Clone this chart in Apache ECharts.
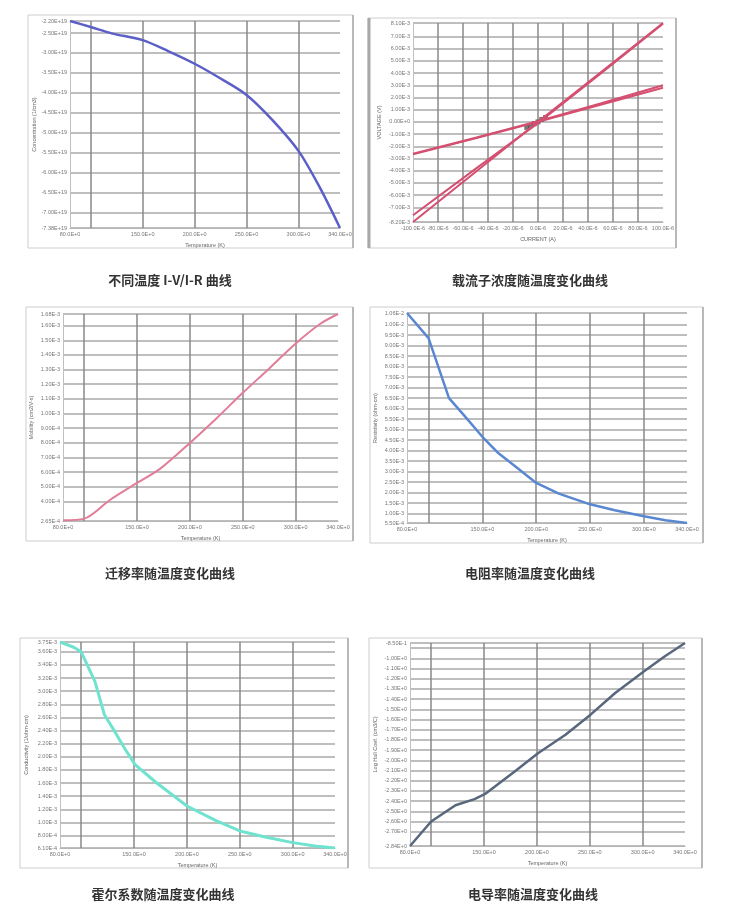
<!DOCTYPE html>
<html lang="zh">
<head>
<meta charset="utf-8">
<title>霍尔效应测试曲线</title>
<style>
    html, body { margin: 0; padding: 0; background: #fff; }
    #main { width: 729px; height: 922px; }
</style>
</head>
<body>
<div id="main"></div>
<script src="https://cdn.jsdelivr.net/npm/echarts@6/dist/echarts.min.js"></script>
<script>
// 温度轴（5 张图共用）
var tempTicks = [80, 100, 150, 200, 250, 300, 340];
var tempLabels = [80, 150, 200, 250, 300, 340];

// 图1 不同温度 I-V/I-R 曲线 (Concentration)
var concTemp = [80, 100, 120, 150, 175, 200, 225, 250, 275, 300, 320, 340];
var concValue = [-2.20e19, -2.35e19, -2.51e19, -2.68e19, -2.96e19, -3.27e19, -3.64e19, -4.05e19, -4.68e19, -5.45e19, -6.34e19, -7.38e19];
var concTicks = [-7.38e19, -7.0e19, -6.5e19, -6.0e19, -5.5e19, -5.0e19, -4.5e19, -4.0e19, -3.5e19, -3.0e19, -2.5e19, -2.2e19];

// 图2 载流子浓度随温度变化曲线 (I-V, 电流 uA, 电压 mV)
var ivCurrent = [-100, -50, 0, 50, 100];
var ivSteepA = [-8.2, -4.1, 0, 4.05, 8.1];
var ivSteepB = [-7.65, -3.85, -0.1, 3.95, 8.05];
var ivFlatA = [-2.66, -1.35, 0, 1.4, 2.8];
var ivFlatB = [-2.6, -1.3, 0.05, 1.5, 3.0];
var ivDotX = [-9, -6, -3, 0, 3, 6];
var ivDotY = [-0.45, -0.3, -0.15, 0, 0.2, 0.35];
var ivXTicks = [-100, -80, -60, -40, -20, 0, 20, 40, 60, 80, 100];
var ivYTicks = [-8.2, -7, -6, -5, -4, -3, -2, -1, 0, 1, 2, 3, 4, 5, 6, 7, 8.1];

// 图3 迁移率随温度变化曲线
var mobTemp = [80, 100, 124, 150, 172, 200, 225, 250, 275, 300, 323, 340];
var mobValue = [0.27e-3, 0.281e-3, 0.407e-3, 0.525e-3, 0.623e-3, 0.799e-3, 0.966e-3, 1.141e-3, 1.308e-3, 1.479e-3, 1.612e-3, 1.68e-3];
var mobTicks = [0.265e-3, 0.4e-3, 0.5e-3, 0.6e-3, 0.7e-3, 0.8e-3, 0.9e-3, 1.0e-3, 1.1e-3, 1.2e-3, 1.3e-3, 1.4e-3, 1.5e-3, 1.6e-3, 1.68e-3];

// 图4 电阻率随温度变化曲线
var resTemp = [80, 100, 119, 134, 150, 165, 181, 200, 221, 250, 273, 300, 320, 340];
var resValue = [10.56e-3, 9.36e-3, 6.50e-3, 5.62e-3, 4.66e-3, 3.87e-3, 3.23e-3, 2.46e-3, 1.95e-3, 1.44e-3, 1.16e-3, 0.87e-3, 0.68e-3, 0.55e-3];
var resTicks = [0.55e-3, 1.0e-3, 1.5e-3, 2.0e-3, 2.5e-3, 3.0e-3, 3.5e-3, 4.0e-3, 4.5e-3, 5.0e-3, 5.5e-3, 6.0e-3, 6.5e-3, 7.0e-3, 7.5e-3, 8.0e-3, 8.5e-3, 9.0e-3, 9.5e-3, 10.0e-3, 10.56e-3];

// 图5 霍尔系数随温度变化曲线
var hallTemp = [80, 93, 100, 113, 122, 132, 141, 151, 170, 200, 227, 251, 274, 300, 321, 340];
var hallValue = [3.75e-3, 3.67e-3, 3.60e-3, 3.15e-3, 2.64e-3, 2.38e-3, 2.13e-3, 1.88e-3, 1.62e-3, 1.25e-3, 1.03e-3, 0.865e-3, 0.778e-3, 0.692e-3, 0.641e-3, 0.61e-3];
var hallTicks = [0.61e-3, 0.8e-3, 1.0e-3, 1.2e-3, 1.4e-3, 1.6e-3, 1.8e-3, 2.0e-3, 2.2e-3, 2.4e-3, 2.6e-3, 2.8e-3, 3.0e-3, 3.2e-3, 3.4e-3, 3.6e-3, 3.75e-3];

// 图6 电导率随温度变化曲线
var condTemp = [80, 100, 123, 141, 151, 160, 179, 201, 227, 251, 274, 301, 321, 340];
var condValue = [-2.84, -2.60, -2.44, -2.38, -2.33, -2.26, -2.11, -1.93, -1.75, -1.55, -1.34, -1.13, -0.98, -0.85];
var condTicks = [-2.84, -2.7, -2.6, -2.5, -2.4, -2.3, -2.2, -2.1, -2.0, -1.9, -1.8, -1.7, -1.6, -1.5, -1.4, -1.3, -1.2, -1.1, -1.0, -0.9, -0.85];
var condLabels = [-2.84, -2.7, -2.6, -2.5, -2.4, -2.3, -2.2, -2.1, -2.0, -1.9, -1.8, -1.7, -1.6, -1.5, -1.4, -1.3, -1.2, -1.1, -1.0, -0.85];

var captions = ['不同温度 I-V/I-R 曲线', '载流子浓度随温度变化曲线', '迁移率随温度变化曲线',
    '电阻率随温度变化曲线', '霍尔系数随温度变化曲线', '电导率随温度变化曲线'];

function pairs(xs, ys) {
    var out = [];
    for (var i = 0; i < xs.length; i++) out.push([xs[i], ys[i]]);
    return out;
}
function sci(v) { return v.toExponential(2).toUpperCase(); }

var tickFont = { fontSize: 5.5, color: '#777', fontFamily: 'Liberation Sans', margin: 3 };
var nameFont = { fontSize: 5.5, color: '#666', fontFamily: 'Liberation Sans' };

function xAxisOf(gi, min, max, ticks, labels, name, fmt) {
    return {
        type: 'value', gridIndex: gi, min: min, max: max,
        name: name, nameLocation: 'middle', nameGap: 14, nameTextStyle: nameFont,
        axisLine: { show: true, onZero: false, lineStyle: { color: '#b5b5b5', width: 1 } },
        axisTick: { show: false, customValues: ticks },
        axisLabel: Object.assign({ customValues: labels, formatter: fmt }, tickFont),
        splitLine: { show: true, showMinLine: false, showMaxLine: false, lineStyle: { color: '#888', width: 1.5 } }
    };
}
function yAxisOf(gi, min, max, ticks, labels, name, gap, fmt) {
    return {
        type: 'value', gridIndex: gi, min: min, max: max,
        name: name, nameLocation: 'middle', nameGap: gap, nameRotate: 90, nameTextStyle: nameFont,
        axisLine: { show: true, onZero: false, lineStyle: { color: '#c0c0c0', width: 1 } },
        axisTick: { show: false, customValues: ticks },
        axisLabel: Object.assign({ customValues: labels, formatter: fmt }, tickFont),
        splitLine: { show: true, showMinLine: true, showMaxLine: true, lineStyle: { color: '#a8a8a8', width: 1.5 } }
    };
}
function tempFmt(v) { return v.toFixed(1) + 'E+0'; }
function lineOf(gi, data, color, width, smooth) {
    return {
        type: 'line', xAxisIndex: gi, yAxisIndex: gi, data: data,
        showSymbol: false, silent: true,
        smooth: smooth || false,
        lineStyle: { color: color, width: width }
    };
}

var grids = [
    { left: 70, top: 21, width: 270, height: 207 },
    { left: 413, top: 23, width: 250, height: 199 },
    { left: 63, top: 314, width: 275, height: 207 },
    { left: 407, top: 313, width: 280, height: 210 },
    { left: 60, top: 642, width: 275, height: 206 },
    { left: 410, top: 643, width: 275, height: 203 }
];
var frames = [
    [28, 15, 325, 233], [368, 18, 308, 230], [26, 307, 327, 234],
    [370, 307, 333, 236], [20, 638, 328, 230], [369, 638, 333, 230]
];
var captionPos = [[170, 280], [530, 280], [170, 573], [530, 573], [163, 894], [533, 894]];

var graphics = [];
frames.forEach(function (f) {
    graphics.push({
        type: 'rect', silent: true, z: -1,
        shape: { x: f[0], y: f[1], width: f[2], height: f[3] },
        style: { fill: 'none', stroke: '#cdcdcd', lineWidth: 1 }
    });
    graphics.push({
        type: 'line', silent: true, z: -1,
        shape: { x1: f[0] + f[2], y1: f[1], x2: f[0] + f[2], y2: f[1] + f[3] },
        style: { stroke: '#b8b8b8', lineWidth: 2 }
    });
});
graphics.push({
    type: 'line', silent: true,
    shape: { x1: 369, y1: 18, x2: 369, y2: 248 },
    style: { stroke: '#a8a8a8', lineWidth: 3 }
});
captions.forEach(function (t, i) {
    graphics.push({
        type: 'text', silent: true,
        x: captionPos[i][0], y: captionPos[i][1],
        style: {
            text: t, fill: '#333', textAlign: 'center', textVerticalAlign: 'middle',
            font: 'bold 13px "Noto Sans CJK SC"'
        }
    });
});

var myChart = echarts.init(document.getElementById('main'));
myChart.setOption({
    animation: false,
    grid: grids,
    graphic: graphics,
    xAxis: [
        xAxisOf(0, 80, 340, tempTicks, tempLabels, 'Temperature (K)', tempFmt),
        xAxisOf(1, -100, 100, ivXTicks, ivXTicks, 'CURRENT (A)', function (v) { return v.toFixed(1) + 'E-6'; }),
        xAxisOf(2, 80, 340, tempTicks, tempLabels, 'Temperature (K)', tempFmt),
        xAxisOf(3, 80, 340, tempTicks, tempLabels, 'Temperature (K)', tempFmt),
        xAxisOf(4, 80, 340, tempTicks, tempLabels, 'Temperature (K)', tempFmt),
        xAxisOf(5, 80, 340, tempTicks, tempLabels, 'Temperature (K)', tempFmt)
    ],
    yAxis: [
        yAxisOf(0, -7.38e19, -2.2e19, concTicks, concTicks, 'Concentration (1/cm3)', 33, sci),
        yAxisOf(1, -8.2, 8.1, ivYTicks, ivYTicks, 'VOLTAGE (V)', 31, function (v) {
            return v === 0 ? '0.00E+0' : sci(v * 1e-3);
        }),
        yAxisOf(2, 0.265e-3, 1.68e-3, mobTicks, mobTicks, 'Mobility (cm2/V-s)', 29, sci),
        yAxisOf(3, 0.55e-3, 10.56e-3, resTicks, resTicks, 'Resistivity (ohm-cm)', 29, sci),
        yAxisOf(4, 0.61e-3, 3.75e-3, hallTicks, hallTicks, 'Conductivity (1/ohm-cm)', 31, sci),
        yAxisOf(5, -2.84, -0.85, condTicks, condLabels, 'Log Hall Coef. (cm3/C)', 32, sci)
    ],
    series: [
        lineOf(0, pairs(concTemp, concValue), '#5b5fc7', 2.5, 0.3),
        lineOf(1, pairs(ivCurrent, ivSteepA), '#d44f70', 2),
        lineOf(1, pairs(ivCurrent, ivSteepB), '#d44f70', 2),
        lineOf(1, pairs(ivCurrent, ivFlatA), '#d44f70', 2),
        lineOf(1, pairs(ivCurrent, ivFlatB), '#d44f70', 2),
        {
            type: 'scatter', xAxisIndex: 1, yAxisIndex: 1, silent: true,
            symbol: 'rect', symbolSize: 5, data: pairs(ivDotX, ivDotY),
            itemStyle: { color: '#555' }
        },
        lineOf(2, pairs(mobTemp, mobValue), '#e27d98', 2, 0.3),
        lineOf(3, pairs(resTemp, resValue), '#5a87d2', 2.5),
        lineOf(4, pairs(hallTemp, hallValue), '#6fe3cf', 3),
        lineOf(5, pairs(condTemp, condValue), '#58677d', 2.5)
    ]
});
</script>
</body>
</html>
